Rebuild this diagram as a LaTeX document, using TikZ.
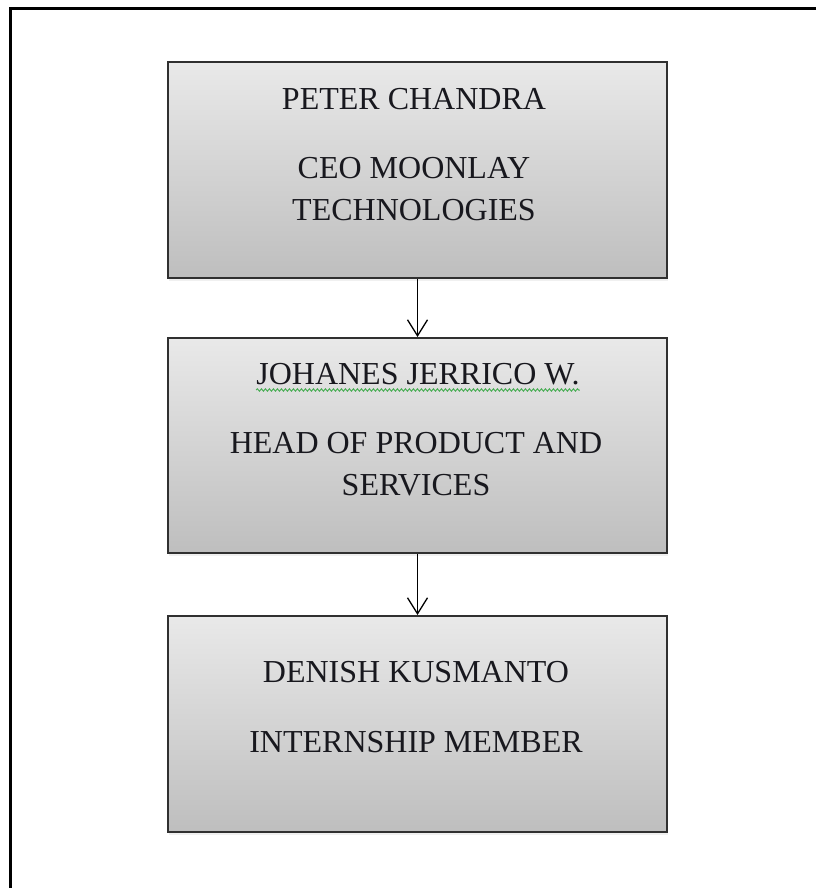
\documentclass[tikz,border=0pt]{standalone}
\usepackage{fontspec}
\setmainfont{Liberation Serif}
\usetikzlibrary{arrows.meta,shadows,decorations.pathmorphing}

\definecolor{inkdark}{HTML}{18181E}
\definecolor{boxedge}{HTML}{303030}
\definecolor{boxtop}{HTML}{E9E9E9}
\definecolor{boxbottom}{HTML}{BEBEBE}
\definecolor{spellgreen}{HTML}{4FAF5A}

\tikzset{
  orgbox/.style={rectangle, draw=boxedge, line width=2pt,
    top color=boxtop, bottom color=boxbottom,
    minimum width=499pt, inner sep=0pt,
    drop shadow={opacity=0.12, shadow xshift=1pt, shadow yshift=-3pt}},
  label/.style={anchor=base, text=inkdark, inner sep=0pt,
    font=\fontsize{32}{42}\selectfont},
  link/.style={draw=black, line width=1.3pt,
    -{Straight Barb[length=16pt,width=20pt,line width=1.3pt]}},
  frame/.style={draw=black, line width=3pt},
  squiggle/.style={draw=spellgreen, line width=1pt,
    decorate, decoration={snake, amplitude=1.2pt, segment length=4pt}}
}

\begin{document}
\begin{tikzpicture}[x=1pt,y=-1pt]
  \useasboundingbox (0,0) rectangle (816,888);

  % page frame, open to the right and bottom
  \draw[frame] (816,8.5) -- (10,8.5) -- (10,888);

  % boxes
  \node[orgbox, minimum height=216pt] (b1) at (417.5,170) {};
  \node[orgbox, minimum height=215pt] (b2) at (417.5,445.5) {};
  \node[orgbox, minimum height=216pt] (b3) at (417.5,724) {};

  % reporting lines
  \draw[link] (b1.south) -- (b2.north);
  \draw[link] (b2.south) -- (b3.north);

  % box texts
  \node[label] (t1a) at (414,110) {PETER CHANDRA};
  \node[label] (t1b) at (414,178) {CEO MOONLAY};
  \node[label] (t1c) at (414,220) {TECHNOLOGIES};

  \node[label] (t2a) at (418,384) {JOHANES JERRICO W.};
  \node[label] (t2b) at (416,453) {HEAD OF PRODUCT AND};
  \node[label] (t2c) at (416,495) {SERVICES};

  \node[label] (t3a) at (416,682) {DENISH KUSMANTO};
  \node[label] (t3b) at (416,752) {INTERNSHIP MEMBER};

  % spelling underline
  \coordinate (u1) at ([yshift=-6pt]t2a.base west);
  \coordinate (u2) at ([yshift=-6pt]t2a.base east);
  \draw[squiggle] (u1) -- (u2);
\end{tikzpicture}
\end{document}
